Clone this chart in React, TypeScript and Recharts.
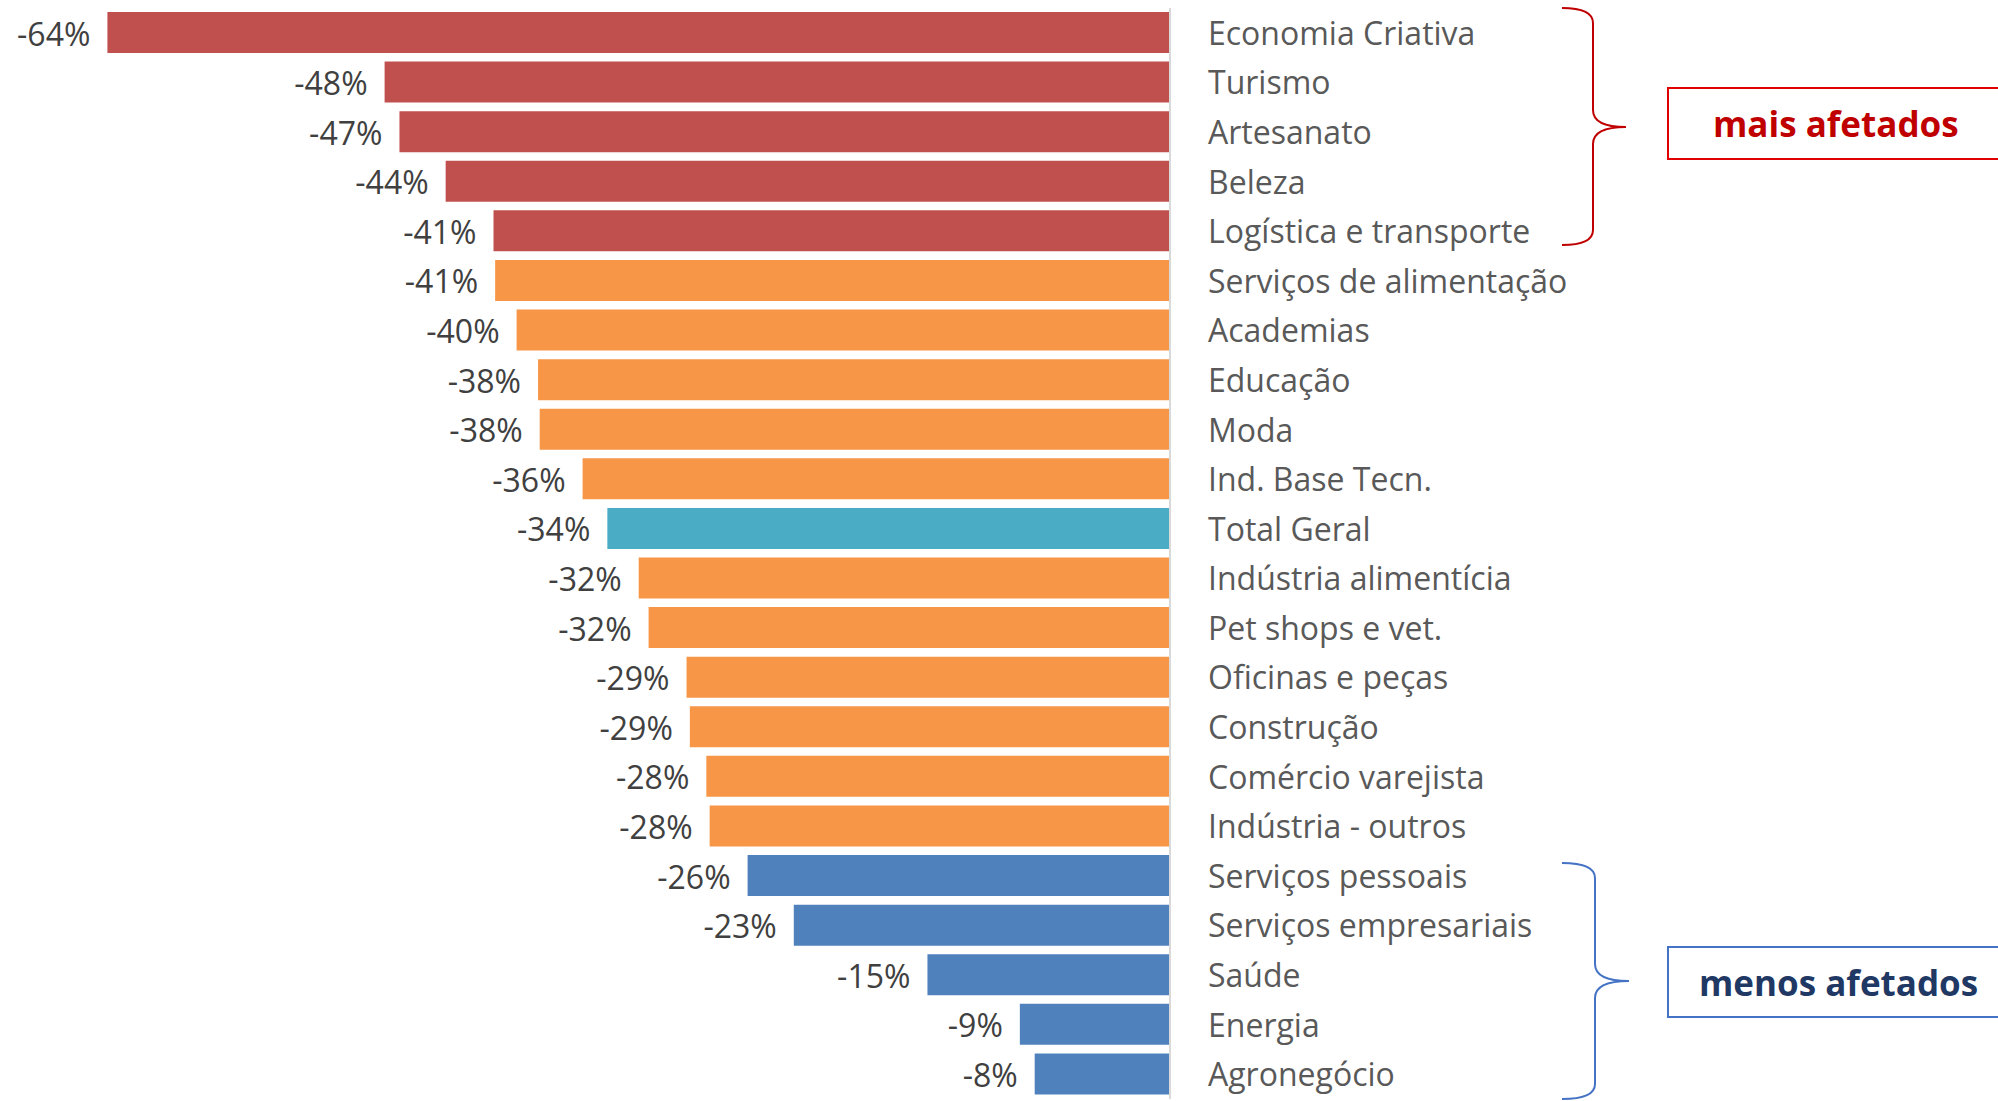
import { Bar, BarChart, Cell, LabelList, XAxis, YAxis } from "recharts";

const CATEGORIES = [
  "Economia Criativa",
  "Turismo",
  "Artesanato",
  "Beleza",
  "Logística e transporte",
  "Serviços de alimentação",
  "Academias",
  "Educação",
  "Moda",
  "Ind. Base Tecn.",
  "Total Geral",
  "Indústria alimentícia",
  "Pet shops e vet.",
  "Oficinas e peças",
  "Construção",
  "Comércio varejista",
  "Indústria - outros",
  "Serviços pessoais",
  "Serviços empresariais",
  "Saúde",
  "Energia",
  "Agronegócio",
];

// variação do faturamento (%)
const VALUES = [
  -64.4, -47.6, -46.7, -43.9, -41.0, -40.9, -39.6, -38.3, -38.2, -35.6, -34.1,
  -32.2, -31.6, -29.3, -29.1, -28.1, -27.9, -25.6, -22.8, -14.7, -9.1, -8.2,
];

const GROUPS = [
  "mais", "mais", "mais", "mais", "mais",
  "medio", "medio", "medio", "medio", "medio",
  "total",
  "medio", "medio", "medio", "medio", "medio", "medio",
  "menos", "menos", "menos", "menos", "menos",
];

const GROUP_COLORS: Record<string, string> = {
  mais: "#C0504D",
  medio: "#F79646",
  total: "#4BACC6",
  menos: "#4F81BD",
};

const FONT = "'Open Sans', sans-serif";

const data = CATEGORIES.map((name, i) => ({ name, value: VALUES[i], group: GROUPS[i] }));

function CategoryTick(props: any) {
  const { x, y, payload } = props;
  return (
    <text x={x} y={y + 12} fill="#595959" fontSize={32} fontFamily={FONT} textAnchor="start">
      {payload.value}
    </text>
  );
}

function ValueLabel(props: any) {
  const { x, y, width, height, value } = props;
  const left = Math.min(x, x + width);
  return (
    <text
      x={left - 17}
      y={y + height / 2 + 13}
      fill="#404040"
      fontSize={32}
      fontFamily={FONT}
      textAnchor="end"
    >
      {`${Math.round(value)}%`}
    </text>
  );
}

function Brace({ x0, xv, xp, y0, yp, y1, color }: any) {
  const r = 15;
  const d = [
    `M${x0},${y0}`,
    `Q${xv},${y0} ${xv},${y0 + r}`,
    `L${xv},${yp - r - 2}`,
    `Q${xv},${yp} ${xp},${yp}`,
    `Q${xv},${yp} ${xv},${yp + r + 2}`,
    `L${xv},${y1 - r}`,
    `Q${xv},${y1} ${x0},${y1}`,
  ].join(" ");
  return <path d={d} fill="none" stroke={color} strokeWidth={2} />;
}

export default function App() {
  return (
    <div style={{ position: "absolute", left: 0, top: 0, width: 1998, height: 1101, background: "#fff" }}>
      <BarChart
        width={1998}
        height={1101}
        data={data}
        layout="vertical"
        margin={{ top: 8, right: 0, bottom: 2, left: 15 }}
      >
        <XAxis type="number" domain={[-70, 0]} hide />
        <YAxis
          type="category"
          dataKey="name"
          orientation="right"
          width={828}
          interval={0}
          axisLine={{ stroke: "#D9D9D9", strokeWidth: 2 }}
          tickLine={false}
          tickSize={0}
          tickMargin={38}
          tick={<CategoryTick />}
        />
        <Bar dataKey="value" barSize={41} isAnimationActive={false}>
          {data.map((d) => (
            <Cell key={d.name} fill={GROUP_COLORS[d.group]} />
          ))}
          <LabelList dataKey="value" content={<ValueLabel />} />
        </Bar>
      </BarChart>
      <svg
        width={1998}
        height={1101}
        style={{ position: "absolute", left: 0, top: 0, pointerEvents: "none" }}
      >
        <Brace x0={1562} xv={1593} xp={1626} y0={8} yp={127} y1={245} color="#C00000" />
        <rect x={1668} y={88} width={400} height={71} fill="none" stroke="#E00000" strokeWidth={2} />
        <text x={1713} y={137} fill="#C00000" fontSize={35} fontWeight="bold" fontFamily={FONT}>
          mais afetados
        </text>
        <Brace x0={1562} xv={1595} xp={1629} y0={863} yp={981} y1={1099} color="#4472C4" />
        <rect x={1668} y={947} width={400} height={70} fill="none" stroke="#4472C4" strokeWidth={2} />
        <text x={1699} y={996} fill="#1F3864" fontSize={35} fontWeight="bold" fontFamily={FONT}>
          menos afetados
        </text>
      </svg>
    </div>
  );
}
